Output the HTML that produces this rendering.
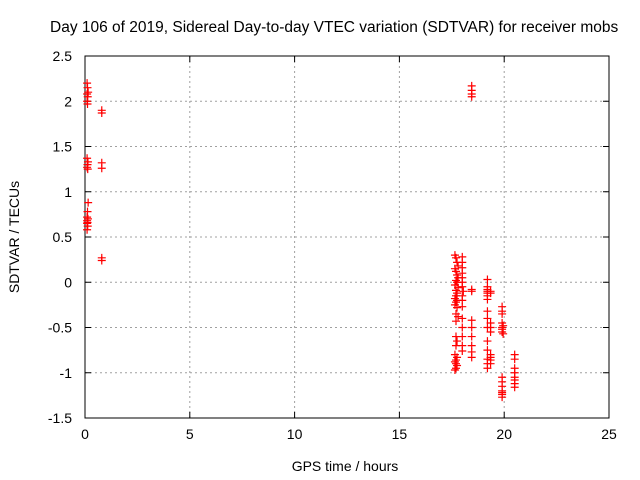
<!DOCTYPE html>
<html><head><meta charset="utf-8"><style>body{margin:0;background:#fff}svg{display:block}text{font-family:"Liberation Sans",sans-serif;font-size:14px;fill:#000}</style></head>
<body>
<svg id="c" width="640" height="480"></svg>
<script>
const hours=[0.1,0.12,0.15,0.1,0.13,0.1,0.12,0.1,0.14,0.12,0.1,0.13,0.15,0.12,0.1,0.14,0.1,0.12,0.1,0.13,0.1,0.8,0.8,0.8,0.8,0.8,0.8,
18.45,18.45,18.45,18.45,
17.65,17.7,17.75,17.8,17.65,17.7,17.75,17.8,17.7,17.75,17.65,17.8,17.7,17.75,17.7,17.65,17.75,17.7,17.65,17.75,17.7,17.8,17.7,17.65,17.75,17.7,17.65,17.7,17.75,17.7,17.65,17.7,17.75,17.7,
18.0,18.0,18.0,18.0,18.0,18.0,18.0,18.05,18.0,18.0,18.0,18.0,18.0,18.0,18.0,18.0,
18.45,18.45,18.45,18.45,18.45,18.45,18.45,18.45,
19.2,19.2,19.2,19.2,19.2,19.2,19.2,19.2,19.2,19.2,19.2,19.2,19.2,19.2,19.2,
19.35,19.35,19.35,19.35,19.35,19.35,19.35,19.35,19.35,
19.9,19.9,19.9,19.9,19.9,19.9,19.9,19.95,19.95,19.9,19.9,19.9,19.9,19.9,19.9,19.9,
20.5,20.5,20.5,20.5,20.5,20.5,20.5,20.5];
const values=[2.2,2.15,2.1,2.08,2.05,2.0,1.97,1.37,1.33,1.3,1.27,1.25,0.88,0.78,0.72,0.7,0.68,0.66,0.65,0.62,0.58,1.9,1.87,1.32,1.26,0.27,0.24,
2.17,2.12,2.08,2.05,
0.3,0.27,0.22,0.18,0.15,0.12,0.08,0.05,0.02,0,-0.03,-0.06,-0.09,-0.12,-0.15,-0.18,-0.2,-0.22,-0.25,-0.28,-0.35,-0.38,-0.43,-0.8,-0.83,-0.86,-0.88,-0.9,-0.92,-0.95,-0.97,-0.6,-0.65,-0.7,
0.28,0.22,0.16,0.1,0.05,0,-0.05,-0.1,-0.15,-0.2,-0.27,-0.4,-0.5,-0.6,-0.7,-0.76,
-0.08,-0.1,-0.42,-0.5,-0.6,-0.7,-0.77,-0.83,
0.03,-0.05,-0.08,-0.1,-0.12,-0.15,-0.19,-0.32,-0.4,-0.5,-0.65,-0.75,-0.85,-0.9,-0.95,
-0.1,-0.12,-0.45,-0.5,-0.55,-0.8,-0.83,-0.86,-0.9,
-0.27,-0.32,-0.35,-0.45,-0.5,-0.52,-0.55,-0.57,-0.48,-1.05,-1.1,-1.15,-1.2,-1.22,-1.24,-1.27,
-0.8,-0.85,-0.95,-1.0,-1.05,-1.08,-1.12,-1.16];
const xTicks=[0,5,10,15,20,25];
const yTicks=[2.5,2,1.5,1,0.5,0,-0.5,-1,-1.5];
const L=85,R=609,T=56,B=418;
const X=h=>L+(h-0)/(25-0)*(R-L);
const Y=v=>T+(2.5-v)/(2.5+1.5)*(B-T);
const s=document.getElementById('c');const NS='http://www.w3.org/2000/svg';
function mk(t,a,p){const e=document.createElementNS(NS,t);for(const k in a)e.setAttribute(k,a[k]);(p||s).appendChild(e);return e;}
const t=mk('text',{x:50,y:32,'text-anchor':'start',style:'font-size:15.5px'});t.textContent='Day 106 of 2019, Sidereal Day-to-day VTEC variation (SDTVAR) for receiver mobs';


xTicks.forEach(v=>{const x=X(v);
 if(v>0&&v<25){const g=mk('line',{x1:x,x2:x,y1:T,y2:B,stroke:'#a0a0a0','stroke-dasharray':'2,3'});
}
 mk('line',{x1:x,x2:x,y1:B,y2:B-6,stroke:'#000'});mk('line',{x1:x,x2:x,y1:T,y2:T+6,stroke:'#000'});
 const l=mk('text',{x:x,y:B+21,'text-anchor':'middle'});l.textContent=v;
 
 });
yTicks.forEach(v=>{const y=Y(v);
 if(v<2.5&&v>-1.5){const g=mk('line',{x1:L,x2:R,y1:y,y2:y,stroke:'#a0a0a0','stroke-dasharray':'2,3'});
}
 mk('line',{x1:L,x2:L+6,y1:y,y2:y,stroke:'#000'});mk('line',{x1:R,x2:R-6,y1:y,y2:y,stroke:'#000'});
 const l=mk('text',{x:L-13,y:y+5,'text-anchor':'end'});l.textContent=v;
 
 });
const f=mk('rect',{x:L,y:T,width:R-L,height:B-T,fill:'none',stroke:'#000'});


const xt=mk('text',{x:345,y:471,'text-anchor':'middle'});xt.textContent='GPS time / hours';


const yt=mk('text',{x:19,y:237,'text-anchor':'middle',transform:'rotate(-90 19 237)'});yt.textContent='SDTVAR / TECUs';


hours.forEach((h,i)=>{const x=X(h),y=Y(values[i]);
 const p=mk('path',{d:`M${x-4},${y}H${x+4}M${x},${y-4}V${y+4}`,stroke:'#f00','stroke-width':1.2});
 
 });
</script>
</body></html>
